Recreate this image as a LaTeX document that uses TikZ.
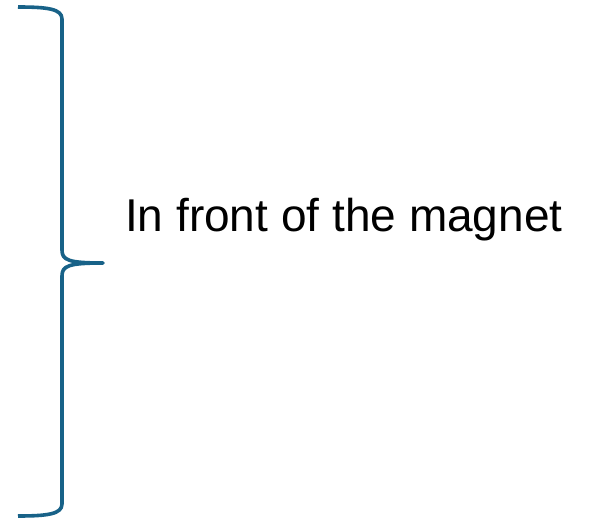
\documentclass[tikz,border=0pt]{standalone}
\usepackage{fontspec}
\setmainfont{Liberation Sans}
\definecolor{bracecol}{RGB}{24,98,136}
\tikzset{bracestyle/.style={draw=bracecol,line width=3.6pt,line cap=butt,line join=round},
  labelstyle/.style={font=\fontsize{46}{50}\selectfont,text=black,inner sep=0pt,anchor=base west}}
\begin{document}
\begin{tikzpicture}[x=1pt,y=-1pt]
\useasboundingbox (0,0) rectangle (598,519);
\coordinate (top) at (18,7);
\coordinate (tip) at (103,263);
\coordinate (bot) at (18,516);
\draw[bracestyle] (top) .. controls (48,7) and (62,9) .. (62,19)
  -- (62,250) .. controls (62,260) and (68,263) .. (tip)
  .. controls (68,263) and (62,266) .. (62,276)
  -- (62,504) .. controls (62,514) and (48,516) .. (bot);
\node[labelstyle] (lbl) at (125,231) {In front of the magnet};
\end{tikzpicture}
\end{document}
